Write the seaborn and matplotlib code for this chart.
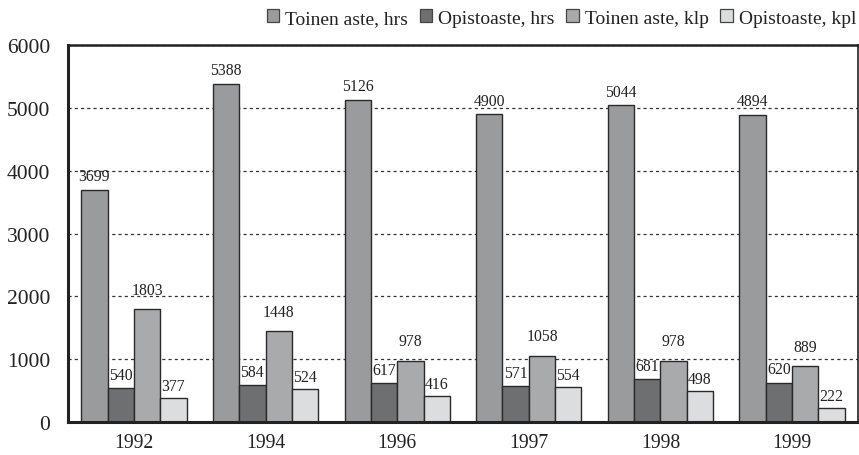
import matplotlib
matplotlib.use("Agg")
import matplotlib.pyplot as plt
import seaborn as sns
import pandas as pd
from matplotlib.patches import Patch

# data
years = ["1992", "1994", "1996", "1997", "1998", "1999"]
series = ["Toinen aste, hrs", "Opistoaste, hrs", "Toinen aste, klp", "Opistoaste, kpl"]
toinen_hrs = [3699, 5388, 5126, 4900, 5044, 4894]
opisto_hrs = [540, 584, 617, 571, 681, 620]
toinen_klp = [1803, 1448, 978, 1058, 978, 889]
opisto_kpl = [377, 524, 416, 554, 498, 222]
colors = ["#9a9b9d", "#6e6f71", "#a9aaac", "#dcdddf"]

rows = []
for name, vals in zip(series, [toinen_hrs, opisto_hrs, toinen_klp, opisto_kpl]):
    for y, v in zip(years, vals):
        rows.append({"year": y, "value": v, "series": name})
df = pd.DataFrame(rows)

sns.set_style("white")
plt.rcParams["font.family"] = ["Liberation Serif", "DejaVu Serif"]

fig = plt.figure(figsize=(8.59, 4.56), dpi=100)
ax = fig.add_axes([0.0792, 0.0724, 0.9196, 0.8266])

ax.set_axisbelow(True)
ax.yaxis.grid(True, linestyle=(0, (2.5, 2.5)), color="#333333", linewidth=0.9)

sns.barplot(data=df, x="year", y="value", hue="series", palette=colors,
            edgecolor="#2a2a2a", linewidth=1.0, width=0.8, gap=0,
            legend=False, ax=ax)

pads = [4, 4, 8, 3]
for cont, p in zip(ax.containers, pads):
    ax.bar_label(cont, labels=[str(int(v)) for v in cont.datavalues],
                 padding=p, fontsize=11.3, color="#222222")

ax.set_ylim(0, 6000)
ax.set_yticks(range(0, 6001, 1000))
ax.set_xlabel("")
ax.set_ylabel("")
ax.tick_params(axis="y", length=0, pad=13, labelsize=15.5, colors="#222222")
ax.tick_params(axis="x", length=0, pad=8, labelsize=14.2, colors="#222222")

for side, lw in [("left", 2.2), ("bottom", 2.2), ("top", 1.8), ("right", 1.2)]:
    ax.spines[side].set_visible(True)
    ax.spines[side].set_linewidth(lw)
    ax.spines[side].set_color("#222222")

handles = [Patch(facecolor=c, edgecolor="#444444", linewidth=0.9) for c in colors]
ax.legend(handles, series, loc="center right", bbox_to_anchor=(856 / 859, 0.958),
          bbox_transform=fig.transFigure,
          ncol=4, frameon=False, fontsize=14.0, handlelength=0.65,
          handleheight=0.65, handletextpad=0.3, columnspacing=0.6,
          borderaxespad=0, borderpad=0, labelcolor="#222222")

fig.savefig("out.png", dpi=100)
